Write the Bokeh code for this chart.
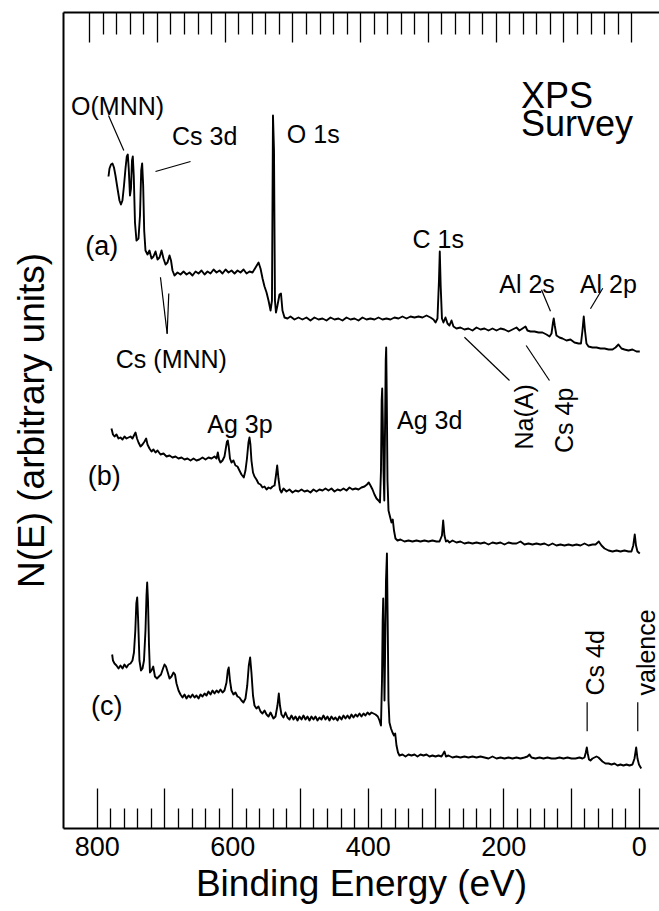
import math
from bokeh.plotting import figure
from bokeh.models import Range1d, LinearAxis, FixedTicker, CustomLabelingPolicy
from bokeh.core.properties import value
from bokeh.embed import file_html
from bokeh.resources import INLINE

FONT = "Liberation Sans"

# ---------------- data: (binding energy eV, N(E) arbitrary units) ----------------
spec_a = [
    (783.3, 652), (781.8, 660), (779.6, 664), (777.4, 665), (775.2, 661), (773.0, 653),
    (770.0, 640), (767.1, 628), (764.9, 624), (762.7, 628), (760.4, 643), (758.2, 660),
    (756.3, 672), (754.8, 674), (753.4, 660), (751.6, 633), (750.1, 640), (748.6, 668),
    (747.4, 672), (746.0, 653), (744.2, 606), (742.0, 588), (739.0, 590), (736.8, 613),
    (735.0, 658), (733.6, 665), (732.1, 643), (730.6, 598), (728.7, 578), (725.7, 574),
    (722.8, 578), (719.8, 570), (716.9, 572), (713.9, 577), (710.9, 569), (708.0, 571),
    (705.0, 578), (702.1, 570), (699.1, 564), (696.2, 566), (693.2, 573), (691.0, 568),
    (688.8, 558), (685.9, 553), (681.4, 556), (677.0, 554), (672.5, 557), (668.1, 554),
    (663.7, 556), (659.3, 553), (654.8, 557), (650.4, 555), (646.0, 558), (641.5, 554),
    (637.1, 557), (632.7, 555), (628.2, 559), (623.8, 556), (619.4, 558), (615.0, 555),
    (610.5, 559), (606.1, 556), (601.7, 558), (597.2, 555), (592.8, 558), (588.4, 556),
    (583.9, 559), (579.5, 555), (575.1, 557), (570.7, 556), (566.2, 561), (561.8, 566),
    (558.9, 560), (555.9, 550), (553.0, 542), (550.0, 536), (547.1, 528), (544.1, 518),
    (542.0, 528), (540.5, 713), (539.0, 678), (537.6, 528), (536.1, 516), (533.9, 523),
    (530.9, 534), (528.7, 535), (526.5, 518), (523.5, 511), (519.1, 510),
    (514.7, 512), (508.8, 509), (502.9, 511), (497.0, 509), (491.1, 511), (485.2, 508),
    (479.3, 511), (473.3, 509), (467.4, 510), (461.5, 508), (455.6, 511), (449.7, 509),
    (443.8, 510), (437.9, 508), (432.0, 511), (426.1, 509), (420.2, 510), (414.3, 508),
    (408.4, 511), (402.5, 509), (396.6, 510), (390.7, 509), (384.8, 511), (378.9, 509),
    (373.0, 510), (367.1, 509), (361.2, 511), (355.3, 510), (349.4, 512), (343.4, 510),
    (337.5, 512), (331.6, 511), (325.7, 512), (319.8, 511), (313.9, 513), (308.0, 511),
    (303.6, 509), (300.6, 506), (297.7, 510), (295.5, 548), (294.3, 577), (293.0, 543),
    (291.1, 510), (288.9, 506), (285.9, 511), (282.9, 505), (280.0, 503), (277.0, 508),
    (274.1, 502), (269.7, 500), (263.8, 501), (257.9, 499), (252.0, 500), (246.0, 498),
    (240.1, 501), (234.2, 499), (228.3, 500), (222.4, 498), (216.5, 500), (210.6, 498),
    (204.7, 500), (198.8, 499), (192.9, 497), (187.0, 499), (181.1, 501), (176.7, 498),
    (172.2, 500), (167.8, 502), (164.9, 498), (160.4, 497), (154.5, 497), (148.6, 496),
    (142.7, 496), (136.8, 494), (132.3, 492), (129.4, 495), (127.2, 506), (126.1, 510),
    (124.6, 503), (122.1, 493), (117.6, 491), (113.2, 490), (107.3, 488), (101.4, 489),
    (95.5, 486), (89.5, 485), (85.9, 485), (83.7, 498), (81.8, 512), (80.0, 498),
    (77.8, 485), (74.8, 482), (68.9, 481), (63.0, 481), (57.1, 480), (51.1, 480),
    (45.2, 479), (39.3, 479), (34.9, 481), (30.6, 484), (26.1, 480), (21.7, 479),
    (15.8, 478), (9.9, 479), (4.0, 477), (-0.9, 477),
]

spec_b = [
    (778.9, 400), (776.7, 394), (774.4, 392), (771.5, 394), (768.5, 390), (765.6, 391),
    (762.6, 389), (759.7, 392), (756.7, 390), (753.8, 391), (750.8, 392), (747.9, 390),
    (745.7, 393), (743.4, 396), (741.2, 390), (739.0, 386), (736.0, 382), (733.1, 384),
    (730.1, 387), (727.7, 390), (725.7, 384), (722.8, 380), (719.8, 377), (716.9, 379),
    (713.9, 376), (710.9, 378), (706.5, 374), (702.1, 375), (697.6, 372), (693.2, 373),
    (688.8, 371), (684.4, 372), (680.0, 370), (675.5, 371), (671.1, 369), (666.7, 370),
    (662.2, 368), (657.8, 370), (653.4, 368), (649.0, 369), (644.5, 371), (640.1, 369),
    (635.7, 371), (631.2, 370), (626.8, 372), (623.8, 370), (621.9, 376), (620.1, 369),
    (618.0, 366), (615.0, 368), (612.1, 372), (609.9, 381), (608.4, 387), (607.2, 388),
    (605.8, 382), (604.0, 370), (601.8, 366), (598.8, 368), (595.9, 363), (592.9, 362),
    (590.0, 358), (587.0, 354), (583.6, 351), (581.1, 358), (578.9, 370), (576.7, 386),
    (575.2, 391), (573.8, 384), (572.3, 368), (570.0, 356), (567.8, 352), (564.9, 349),
    (561.9, 345), (558.9, 344), (556.0, 341), (553.0, 342), (550.0, 339), (547.1, 341),
    (544.1, 340), (541.2, 342), (538.2, 343), (536.1, 353), (534.3, 363), (532.4, 350),
    (530.2, 339), (528.0, 336), (525.0, 340), (520.6, 337), (516.2, 339), (511.7, 336),
    (507.3, 338), (502.9, 337), (498.4, 339), (494.0, 337), (489.6, 338), (485.2, 336),
    (480.7, 339), (476.3, 337), (471.9, 339), (467.4, 338), (463.0, 340), (458.6, 338),
    (454.2, 340), (449.7, 337), (445.3, 339), (440.9, 338), (436.4, 340), (432.0, 338),
    (427.6, 341), (423.1, 339), (418.7, 340), (414.3, 339), (409.9, 341), (405.4, 342),
    (401.7, 344), (399.1, 346), (396.6, 343), (393.6, 339), (390.7, 334), (387.7, 330),
    (384.8, 328), (382.6, 326), (381.1, 358), (380.1, 428), (379.3, 440), (378.4, 408),
    (377.4, 358), (376.2, 328), (375.0, 408), (374.1, 468), (373.4, 481), (372.5, 428),
    (371.5, 348), (370.0, 318), (367.8, 312), (365.6, 306), (363.7, 309), (361.9, 298),
    (359.7, 290), (356.7, 288), (352.3, 289), (346.4, 287), (340.5, 288), (334.6, 287),
    (328.7, 288), (322.8, 287), (316.9, 288), (311.0, 287), (305.1, 288), (299.2, 287),
    (294.7, 287), (291.1, 293), (289.3, 308), (287.4, 293), (285.2, 287), (282.9, 288),
    (280.0, 286), (275.5, 288), (269.7, 286), (263.8, 287), (257.9, 285), (252.0, 286),
    (246.0, 285), (240.1, 286), (234.2, 285), (228.3, 286), (222.4, 284), (216.5, 286),
    (210.6, 285), (204.7, 286), (198.8, 284), (192.9, 286), (187.0, 285), (181.1, 285),
    (175.2, 287), (169.3, 284), (163.4, 285), (157.5, 284), (151.6, 285), (145.7, 284),
    (139.8, 285), (133.8, 283), (127.9, 285), (122.1, 283), (116.2, 284), (110.2, 283),
    (104.3, 284), (98.4, 283), (92.5, 284), (86.6, 283), (80.7, 285), (74.8, 283),
    (68.9, 284), (64.4, 284), (59.6, 287), (55.6, 283), (51.1, 280), (45.2, 278),
    (39.3, 277), (33.4, 278), (27.6, 277), (21.7, 278), (15.8, 277), (11.4, 277),
    (8.7, 283), (6.5, 294), (4.7, 283), (2.5, 277), (-0.9, 275),
]

spec_c = [
    (777.9, 174), (776.7, 168), (774.4, 165), (771.5, 163), (768.5, 160), (765.6, 163),
    (762.6, 160), (759.7, 164), (756.7, 161), (753.8, 164), (750.8, 165), (747.9, 168),
    (745.7, 176), (743.7, 198), (742.2, 225), (740.9, 231), (739.5, 208), (737.6, 168),
    (735.3, 158), (733.1, 160), (730.9, 168), (728.7, 198), (727.2, 233), (726.2, 246),
    (725.0, 228), (723.5, 183), (722.1, 156), (719.8, 158), (717.3, 162), (714.7, 152),
    (711.7, 150), (708.8, 152), (705.8, 154), (702.8, 160), (700.6, 164), (698.4, 162),
    (696.2, 157), (693.2, 150), (690.3, 152), (687.3, 156), (685.1, 154), (682.9, 145),
    (679.9, 138), (677.0, 134), (674.0, 131), (671.1, 134), (668.1, 130), (665.2, 133),
    (662.2, 131), (659.3, 134), (656.3, 131), (653.4, 133), (650.4, 130), (647.5, 134),
    (644.5, 132), (641.5, 135), (638.6, 133), (635.7, 137), (632.7, 134), (629.7, 138),
    (626.8, 135), (623.8, 138), (620.9, 136), (618.0, 139), (615.0, 136), (612.1, 138),
    (609.1, 146), (607.2, 158), (605.8, 161), (604.0, 148), (601.8, 138), (598.8, 134),
    (595.9, 136), (592.9, 132), (590.0, 131), (587.0, 128), (584.1, 126), (581.1, 130),
    (578.5, 143), (576.2, 163), (574.2, 171), (572.3, 156), (570.0, 133), (567.8, 123),
    (564.9, 120), (561.9, 122), (558.9, 117), (556.0, 115), (553.0, 118), (550.0, 114),
    (547.1, 112), (544.1, 116), (542.0, 113), (539.8, 110), (536.8, 112), (533.9, 123),
    (531.9, 135), (530.2, 123), (528.0, 114), (525.0, 111), (522.1, 116), (519.1, 111),
    (516.1, 109), (513.2, 113), (510.2, 109), (507.3, 112), (504.3, 108), (501.4, 112),
    (498.4, 109), (495.5, 113), (492.5, 109), (489.6, 112), (486.6, 108), (483.7, 112),
    (480.7, 109), (477.8, 112), (474.8, 108), (471.9, 111), (468.9, 109), (466.0, 113),
    (463.0, 109), (460.1, 112), (457.1, 108), (454.2, 112), (451.2, 109), (448.3, 111),
    (445.3, 108), (442.4, 112), (439.4, 109), (436.4, 113), (433.5, 110), (430.5, 113),
    (427.6, 110), (424.6, 114), (421.7, 111), (418.7, 114), (415.8, 112), (412.8, 115),
    (409.9, 112), (406.9, 115), (404.0, 113), (401.0, 116), (398.1, 114), (395.1, 116),
    (392.2, 115), (389.2, 114), (385.8, 112), (383.3, 108), (381.1, 103), (379.6, 148),
    (378.6, 208), (377.8, 230), (377.0, 188), (375.9, 128), (374.8, 188), (373.7, 248),
    (372.3, 275), (371.2, 208), (370.0, 128), (368.6, 106), (366.3, 100), (364.1, 96),
    (361.9, 93), (360.1, 95), (358.2, 83), (356.0, 76), (353.8, 73), (349.4, 74),
    (344.9, 72), (340.5, 74), (336.1, 73), (331.6, 74), (327.2, 72), (322.8, 74),
    (318.3, 73), (313.9, 74), (309.5, 72), (305.1, 73), (300.6, 72), (296.2, 73),
    (291.8, 72), (289.1, 75), (287.4, 77), (285.2, 72), (281.5, 73), (275.6, 71),
    (269.7, 72), (263.8, 71), (257.9, 72), (252.0, 71), (246.0, 72), (240.1, 71),
    (234.2, 72), (228.3, 71), (222.4, 70), (216.5, 72), (210.6, 70), (204.7, 71),
    (198.8, 70), (192.9, 71), (187.0, 70), (181.1, 71), (175.2, 70), (169.3, 71),
    (164.9, 72), (161.9, 74), (159.0, 71), (153.0, 70), (147.1, 71), (141.2, 70),
    (135.3, 71), (129.4, 70), (123.5, 70), (117.6, 71), (111.7, 70), (105.8, 71),
    (99.9, 70), (93.9, 70), (88.1, 71), (83.7, 70), (80.7, 71), (78.8, 76),
    (77.3, 81), (75.9, 75), (74.1, 69), (71.9, 68), (68.9, 70), (66.0, 71),
    (63.0, 72), (60.1, 71), (57.1, 69), (54.2, 67), (49.7, 65), (45.2, 65),
    (40.8, 64), (36.4, 65), (31.9, 63), (27.6, 64), (23.2, 63), (18.7, 64),
    (14.3, 63), (9.9, 64), (6.9, 70), (4.4, 81), (2.5, 70), (0.3, 64), (-3.0, 60),
]

# axis ticks
major_ticks = [0, 100, 200, 300, 400, 500, 600, 700, 800]
minor_ticks = [v for v in range(20, 800, 20) if v % 100 != 0]
labelled_ticks = [0, 200, 400, 600, 800]

# peak labels (horizontal)
peak_labels = ["O(MNN)", "Cs 3d", "O 1s", "C 1s", "Al 2s", "Al 2p", "Cs (MNN)", "Ag 3p", "Ag 3d"]
peak_label_x = [838.5, 689.5, 520.0, 334.5, 206.5, 87.5, 772.5, 637.5, 357.5]
peak_label_y = [723, 693, 694.7, 589.7, 544.7, 544.7, 469.7, 404.7, 408.7]

# peak labels (vertical)
vert_labels = ["Na(A)", "Cs 4p", "Cs 4d", "valence"]
vert_label_x = [169.3, 110.3, 64.5, -10.3]
vert_label_y = [379, 375.5, 133, 133]

# spectrum tags
tags = ["(a)", "(b)", "(c)"]
tag_x = [817.5, 814.0, 809.0]
tag_y = [583, 353, 123]

title_lines = ["XPS", "Survey"]
title_x = [174.4, 174.4]
title_y = [733, 704.7]

# leader lines (x0, y0, x1, y1)
leaders = [
    (783.3, 713, 760.7, 678),
    (662.2, 667, 713.9, 657),
    (144.2, 538.7, 130.9, 517.3),
    (53.7, 540.3, 71.9, 519.7),
    (257.9, 491.3, 191.4, 448),
    (166.8, 483, 132.4, 448),
    (706.6, 551.3, 696.7, 494.7),
    (694.3, 535, 696.7, 494.7),
    (76.8, 126.3, 76.8, 97.3),
    (2.1, 126.3, 2.1, 97.3),
]

# ---------------- figure ----------------
p = figure(width=659, height=911, output_backend="svg", toolbar_location=None,
           x_range=Range1d(849.7, -30.0), y_range=Range1d(0, 816),
           min_border_left=63, min_border_right=0, min_border_top=12,
           min_border_bottom=83)
p.outline_line_color = None
p.xgrid.visible = False
p.ygrid.visible = False
p.background_fill_color = "white"
p.border_fill_color = "white"

# only every other major tick (0, 200, ... 800) carries a label
even_policy = CustomLabelingPolicy(code="""
const out = [];
for (const i of indices) { if (i % 2 == 0) out.push(i); }
return out;
""")
none_policy = CustomLabelingPolicy(code="return [];")

xa = p.xaxis[0]
xa.ticker = FixedTicker(ticks=major_ticks, minor_ticks=minor_ticks)
xa.major_label_policy = even_policy
xa.axis_line_width = 2
xa.axis_line_color = "black"
xa.major_tick_in = 40
xa.major_tick_out = 0
xa.minor_tick_in = 20
xa.minor_tick_out = 0
xa.major_tick_line_width = 1.3
xa.minor_tick_line_width = 1.3
xa.major_tick_line_color = "black"
xa.minor_tick_line_color = "black"
xa.major_label_text_font = FONT
xa.major_label_text_font_size = "27px"
xa.major_label_text_color = "black"
xa.major_label_standoff = 8
xa.axis_label = "Binding Energy (eV)"
xa.axis_label_text_font = FONT
xa.axis_label_text_font_size = "37px"
xa.axis_label_text_font_style = "normal"
xa.axis_label_text_color = "black"
xa.axis_label_standoff = 4

ya = p.yaxis[0]
ya.ticker = FixedTicker(ticks=[])
ya.axis_line_width = 2
ya.axis_line_color = "black"
ya.major_tick_out = 0
ya.major_tick_in = 0
ya.minor_tick_out = 0
ya.minor_tick_in = 0
ya.major_label_standoff = 0
ya.axis_label = "N(E) (arbitrary units)"
ya.axis_label_text_font = FONT
ya.axis_label_text_font_size = "37px"
ya.axis_label_text_font_style = "normal"
ya.axis_label_text_color = "black"
ya.axis_label_standoff = 12

p.extra_x_ranges = {"top": Range1d(838.6, -41.1)}
ta = LinearAxis(x_range_name="top",
                ticker=FixedTicker(ticks=major_ticks, minor_ticks=minor_ticks))
ta.major_label_policy = none_policy
ta.axis_line_width = 2
ta.axis_line_color = "black"
ta.major_tick_in = 30
ta.major_tick_out = 0
ta.minor_tick_in = 22
ta.minor_tick_out = 0
ta.major_tick_line_width = 1.3
ta.minor_tick_line_width = 1.3
ta.major_label_text_font_size = "8px"
ta.major_label_standoff = 0
p.add_layout(ta, "above")

# spectra
for spec in (spec_a, spec_b, spec_c):
    xs = [e for e, _ in spec]
    ys = [n for _, n in spec]
    p.line(xs, ys, line_color="black", line_width=1.9, line_join="round")

# leader lines
p.segment(x0=[l[0] for l in leaders], y0=[l[1] for l in leaders],
          x1=[l[2] for l in leaders], y1=[l[3] for l in leaders],
          line_color="black", line_width=1.2)

# text
p.text(x=peak_label_x, y=peak_label_y, text=peak_labels,
       text_font=value(FONT), text_font_size=value("25px"),
       text_align="left", text_baseline="alphabetic", text_color="black")
p.text(x=vert_label_x, y=vert_label_y, text=vert_labels, angle=math.pi / 2,
       text_font=value(FONT), text_font_size=value("25px"),
       text_align="left", text_baseline="alphabetic", text_color="black")
p.text(x=tag_x, y=tag_y, text=tags,
       text_font=value(FONT), text_font_size=value("27px"),
       text_align="left", text_baseline="alphabetic", text_color="black")
p.text(x=title_x, y=title_y, text=title_lines,
       text_font=value(FONT), text_font_size=value("36px"),
       text_align="left", text_baseline="alphabetic", text_color="black")

open("out.html", "w").write(file_html(p, INLINE))
